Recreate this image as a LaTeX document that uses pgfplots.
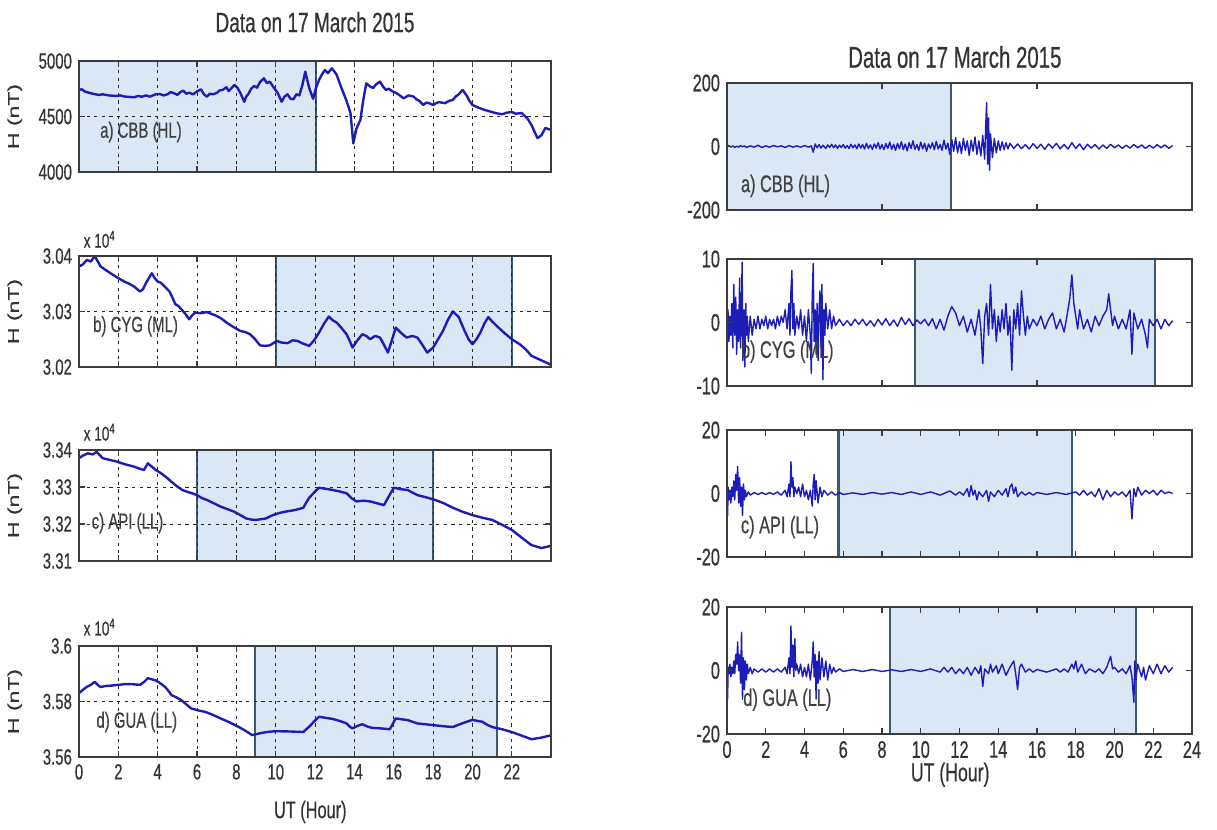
\documentclass[border=0pt]{standalone}
\usepackage{fontspec}
\setmainfont{Liberation Sans}[FakeStretch=0.68, FakeBold=0.5]
\newfontfamily\plainfont{Liberation Sans}[FakeBold=0.5]
\usepackage{graphicx}
\usepackage{pgfplots}
\pgfplotsset{compat=1.18}
\definecolor{shade}{RGB}{219,231,244}
\definecolor{shadeedge}{RGB}{62,88,112}
\definecolor{curve}{RGB}{28,28,185}
\definecolor{frame}{RGB}{60,60,60}
\tikzset{
 plab/.style={anchor=west, font=\fontsize{11}{13}\selectfont, text=black!75},
 rlab/.style={anchor=west, font=\fontsize{12}{14}\selectfont, text=black!75},
 xpow/.style={anchor=west, font=\fontsize{10}{12}\selectfont, text=black!80},
}
\pgfplotsset{
 base/.style={scale only axis, axis on top, scaled ticks=false, clip mode=individual,
   /pgf/number format/assume math mode=true,
   axis line style={frame, line width=1.1pt},
   tick style={frame, line width=0.6pt},
   major tick length=3pt, tick align=inside,
   tick label style={font=\fontsize{11}{13}\selectfont, text=black!80},
   xmin=0},
 leftax/.style={base, width=236pt, height=55.5pt, xmax=23.99, xtick={0,2,...,22},
   xmajorgrids, ymajorgrids,
   major grid style={black!85, line width=0.5pt, dash pattern=on 1.6pt off 2.2pt},
   ylabel={\scalebox{1}[0.68]{\plainfont\fontsize{11.5}{13}\selectfont H (nT)}},
   ylabel style={at={(rel axis cs:-0.136,0.5)}, anchor=center, text=black!80}},
 rightax/.style={base, width=232.5pt, height=63.5pt, xmax=24,
   tick label style={font=\fontsize{12}{14}\selectfont}},
 shadebox/.style={fill=shade, draw=shadeedge, line width=1.1pt},
 lcurve/.style={curve, line width=1.2pt, line join=round},
 rcurve/.style={curve, line width=0.7pt, line join=round},
}
\begin{document}
\begin{tikzpicture}
\useasboundingbox (0,0) rectangle (608.5pt,-415pt);

% ---------------- LEFT a
\begin{axis}[leftax, at={(39.5pt,-30.5pt)}, anchor=north west,
  ymin=4000, ymax=5000, ytick={4000,4500,5000}, yticklabels={4000,4500,5000}, xticklabels={}]
\addplot[shadebox] coordinates {(0,4000)(0,5000)(12.05,5000)(12.05,4000)(0,4000)};
\addplot[lcurve] coordinates {(0.0,4740)(0.14,4745)(0.3,4725)(0.5,4714)(0.7,4705)(1.0,4694)(1.2,4700)(1.5,4690)(1.9,4685)(2.1,4690)(2.3,4680)(2.6,4676)(2.8,4673)(3.0,4685)(3.2,4678)(3.4,4690)(3.6,4679)(3.9,4700)(4.1,4703)(4.3,4690)(4.5,4700)(4.65,4720)(4.8,4712)(5.0,4695)(5.15,4720)(5.3,4733)(5.45,4705)(5.6,4715)(5.8,4700)(6.0,4725)(6.2,4745)(6.35,4700)(6.5,4679)(6.65,4705)(6.8,4700)(7.0,4712)(7.15,4735)(7.3,4740)(7.5,4763)(7.6,4730)(7.7,4745)(7.9,4784)(8.05,4760)(8.2,4712)(8.4,4633)(8.5,4680)(8.6,4700)(8.75,4750)(8.9,4775)(9.05,4760)(9.2,4810)(9.4,4844)(9.55,4800)(9.7,4814)(9.9,4760)(10.1,4712)(10.3,4633)(10.45,4680)(10.6,4700)(10.75,4660)(10.9,4655)(11.05,4700)(11.2,4690)(11.35,4780)(11.5,4904)(11.6,4830)(11.7,4757)(11.9,4660)(12.05,4760)(12.2,4829)(12.35,4880)(12.5,4919)(12.65,4890)(12.85,4934)(13.0,4900)(13.1,4874)(13.25,4800)(13.4,4729)(13.6,4640)(13.8,4530)(13.94,4258)(14.1,4390)(14.3,4468)(14.45,4650)(14.6,4799)(14.8,4770)(14.95,4757)(15.1,4790)(15.3,4814)(15.45,4770)(15.6,4739)(15.75,4750)(15.9,4730)(16.15,4709)(16.3,4690)(16.5,4664)(16.75,4690)(17.0,4680)(17.15,4655)(17.3,4640)(17.5,4604)(17.65,4625)(17.8,4620)(18.0,4604)(18.15,4620)(18.3,4630)(18.6,4620)(18.8,4640)(19.0,4650)(19.15,4680)(19.3,4700)(19.5,4739)(19.7,4690)(19.85,4640)(20.0,4604)(20.3,4580)(20.6,4560)(20.8,4550)(21.0,4540)(21.2,4530)(21.5,4520)(21.75,4535)(22.0,4540)(22.2,4525)(22.5,4531)(22.8,4480)(23.0,4423)(23.3,4306)(23.5,4330)(23.7,4396)(23.99,4380)};
\node[plab] at (rel axis cs:0.03,0.36) {a) CBB (HL)};
\node[font=\fontsize{14}{16}\selectfont, text=black!80] at (rel axis cs:0.5,1.35) {Data on 17 March 2015};
\end{axis}

% ---------------- LEFT b
\begin{axis}[leftax, at={(39.5pt,-128pt)}, anchor=north west,
  ymin=3.02, ymax=3.04, ytick={3.02,3.03,3.04}, yticklabels={3.02,3.03,3.04}, xticklabels={}]
\addplot[shadebox] coordinates {(10,3.02)(10,3.04)(22,3.04)(22,3.02)(10,3.02)};
\addplot[lcurve] coordinates {(0.0,3.0381)(0.2,3.0385)(0.4,3.0393)(0.6,3.0390)(0.8,3.0400)(1.1,3.0381)(1.35,3.0375)(1.6,3.0369)(2.0,3.0360)(2.3,3.0354)(2.55,3.0350)(2.8,3.0345)(3.1,3.0336)(3.25,3.0340)(3.4,3.0351)(3.7,3.0369)(3.85,3.0360)(4.0,3.0354)(4.15,3.0352)(4.3,3.0347)(4.6,3.0336)(4.75,3.0325)(4.9,3.0313)(5.05,3.0310)(5.2,3.0304)(5.4,3.0296)(5.6,3.0286)(5.75,3.0293)(5.9,3.0298)(6.2,3.0297)(6.5,3.0299)(7.0,3.0292)(7.25,3.0287)(7.5,3.0280)(7.85,3.0272)(8.2,3.0265)(8.45,3.0263)(8.7,3.0259)(8.95,3.0250)(9.2,3.0239)(9.45,3.0238)(9.7,3.0239)(10.05,3.0247)(10.3,3.0244)(10.6,3.0243)(10.85,3.0248)(11.1,3.0247)(11.4,3.0242)(11.7,3.0238)(11.95,3.0248)(12.2,3.0262)(12.45,3.0278)(12.7,3.0291)(12.9,3.0284)(13.1,3.0280)(13.35,3.0270)(13.6,3.0259)(13.75,3.0248)(13.9,3.0235)(14.15,3.0248)(14.4,3.0259)(14.6,3.0256)(14.8,3.0250)(15.05,3.0256)(15.3,3.0253)(15.5,3.0240)(15.7,3.0226)(15.9,3.0248)(16.1,3.0271)(16.35,3.0262)(16.65,3.0253)(16.95,3.0256)(17.2,3.0253)(17.45,3.0240)(17.7,3.0226)(18.0,3.0235)(18.25,3.0250)(18.5,3.0265)(18.75,3.0285)(19.0,3.0300)(19.3,3.0290)(19.6,3.0265)(19.8,3.0250)(20.0,3.0241)(20.2,3.0250)(20.4,3.0262)(20.6,3.0278)(20.8,3.0290)(21.0,3.0282)(21.2,3.0275)(21.6,3.0262)(22.0,3.0250)(22.4,3.0241)(22.7,3.0232)(23.0,3.0220)(23.5,3.0212)(23.99,3.0204)};
\node[plab] at (rel axis cs:0.015,0.366) {b) CYG (ML)};
\node[xpow] at (rel axis cs:-0.005,1.15) {x 10\textsuperscript{4}};
\end{axis}

% ---------------- LEFT c
\begin{axis}[leftax, at={(39.5pt,-225pt)}, anchor=north west,
  ymin=3.31, ymax=3.34, ytick={3.31,3.32,3.33,3.34}, yticklabels={3.31,3.32,3.33,3.34}, xticklabels={}]
\addplot[shadebox] coordinates {(6,3.31)(6,3.34)(18,3.34)(18,3.31)(6,3.31)};
\addplot[lcurve] coordinates {(0.0,3.3378)(0.2,3.3385)(0.45,3.3391)(0.7,3.3388)(0.9,3.3395)(1.2,3.3378)(1.5,3.3374)(1.9,3.3369)(2.3,3.3362)(2.8,3.3355)(3.05,3.3350)(3.3,3.3346)(3.5,3.3364)(3.7,3.3355)(3.9,3.3346)(4.15,3.3338)(4.4,3.3328)(4.7,3.3314)(5.0,3.3301)(5.25,3.3292)(5.5,3.3287)(5.75,3.3283)(6.0,3.3278)(6.25,3.3270)(6.5,3.3265)(6.85,3.3256)(7.2,3.3247)(7.55,3.3240)(7.9,3.3233)(8.2,3.3224)(8.5,3.3215)(8.75,3.3212)(9.0,3.3211)(9.25,3.3213)(9.5,3.3215)(9.85,3.3224)(10.2,3.3230)(10.55,3.3234)(10.9,3.3237)(11.15,3.3240)(11.4,3.3244)(11.55,3.3258)(11.7,3.3271)(11.95,3.3285)(12.2,3.3298)(12.55,3.3295)(12.9,3.3292)(13.25,3.3288)(13.6,3.3283)(13.85,3.3270)(14.1,3.3261)(14.45,3.3263)(14.8,3.3261)(15.15,3.3256)(15.5,3.3251)(15.75,3.3275)(16.0,3.3298)(16.35,3.3294)(16.7,3.3292)(16.95,3.3285)(17.2,3.3278)(17.65,3.3272)(18.1,3.3265)(18.5,3.3257)(19.0,3.3244)(19.5,3.3233)(20.0,3.3224)(20.5,3.3217)(21.0,3.3211)(21.5,3.3198)(22.0,3.3184)(22.5,3.3163)(23.0,3.3143)(23.5,3.3135)(23.99,3.3141)};
\node[plab] at (rel axis cs:0.012,0.342) {c) API (LL)};
\node[xpow] at (rel axis cs:-0.005,1.16) {x 10\textsuperscript{4}};
\end{axis}

% ---------------- LEFT d
\begin{axis}[leftax, at={(39.5pt,-323pt)}, anchor=north west,
  ymin=3.56, ymax=3.60, ytick={3.56,3.58,3.6}, yticklabels={3.56,3.58,3.6},
  xlabel={UT (Hour)}, xlabel style={at={(rel axis cs:0.49,-0.495)}, anchor=center, font=\fontsize{12}{14}\selectfont, text=black!80}]
\addplot[shadebox] coordinates {(8.95,3.56)(8.95,3.60)(21.25,3.60)(21.25,3.56)(8.95,3.56)};
\addplot[lcurve] coordinates {(0.0,3.5830)(0.2,3.5842)(0.4,3.5853)(0.6,3.5860)(0.8,3.5871)(0.95,3.5860)(1.1,3.5852)(1.35,3.5856)(1.6,3.5857)(2.0,3.5860)(2.4,3.5863)(2.75,3.5862)(3.1,3.5860)(3.3,3.5870)(3.5,3.5884)(3.7,3.5880)(3.9,3.5876)(4.15,3.5865)(4.4,3.5851)(4.55,3.5838)(4.7,3.5823)(4.95,3.5815)(5.2,3.5805)(5.45,3.5790)(5.7,3.5775)(6.05,3.5768)(6.4,3.5763)(6.8,3.5752)(7.2,3.5739)(7.65,3.5725)(8.1,3.5709)(8.45,3.5695)(8.8,3.5679)(9.05,3.5683)(9.3,3.5687)(9.65,3.5691)(10.0,3.5693)(10.7,3.5692)(11.4,3.5690)(11.55,3.5700)(11.7,3.5709)(11.95,3.5728)(12.2,3.5745)(12.55,3.5741)(12.9,3.5737)(13.25,3.5730)(13.6,3.5721)(13.75,3.5710)(13.9,3.5703)(14.15,3.5712)(14.4,3.5718)(14.65,3.5710)(14.9,3.5705)(15.35,3.5703)(15.8,3.5700)(15.95,3.5720)(16.1,3.5739)(16.4,3.5736)(16.7,3.5733)(16.95,3.5727)(17.2,3.5721)(17.6,3.5718)(18.0,3.5715)(18.5,3.5711)(19.0,3.5708)(19.5,3.5722)(20.0,3.5734)(20.25,3.5730)(20.5,3.5727)(20.75,3.5716)(21.0,3.5708)(21.5,3.5700)(22.0,3.5690)(22.5,3.5677)(23.0,3.5664)(23.5,3.5670)(23.99,3.5678)};
\node[plab] at (rel axis cs:0.022,0.315) {d) GUA (LL)};
\node[xpow] at (rel axis cs:-0.005,1.17) {x 10\textsuperscript{4}};
\end{axis}

% ---------------- RIGHT a
\begin{axis}[rightax, at={(363.5pt,-41.5pt)}, anchor=north west,
  ymin=-200, ymax=200, ytick={-200,0,200}, yticklabels={-200,0,200}, xtick={0,8,16,24}, xticklabels={}]
\addplot[shadebox] coordinates {(0,-200)(0,200)(11.55,200)(11.55,-200)(0,-200)};
\addplot[rcurve] coordinates {(0,0)(0.1,3)(0.2,-2)(0.3,2)(0.4,-3)(0.5,1)(0.6,-2)(0.7,3)(0.8,-1)(0.9,2)(1.0,-3)(1.2,2)(1.4,-2)(1.6,4)(1.8,-3)(2.0,2)(2.2,-2)(2.4,3)(2.6,-1)(2.8,2)(3.0,-3)(3.2,3)(3.4,-2)(3.6,2)(3.8,-2)(4.0,3)(4.2,-2)(4.35,2)(4.45,-18)(4.55,8)(4.65,-4)(4.75,6)(4.85,-5)(4.95,4)(5.1,-6)(5.2,5)(5.3,-3)(5.4,7)(5.5,-4)(5.6,5)(5.7,-6)(5.8,4)(5.9,-3)(6.0,6)(6.1,-5)(6.2,3)(6.3,-6)(6.4,7)(6.5,-4)(6.6,5)(6.7,-7)(6.8,8)(6.9,-5)(7.0,6)(7.1,-8)(7.2,10)(7.3,-6)(7.4,5)(7.5,-9)(7.6,8)(7.7,-5)(7.8,12)(7.9,-8)(8.0,6)(8.1,-10)(8.2,9)(8.3,-6)(8.4,14)(8.5,-9)(8.6,7)(8.7,-12)(8.8,10)(8.9,-7)(9.0,15)(9.1,-10)(9.2,8)(9.3,-14)(9.4,12)(9.5,-6)(9.6,18)(9.7,-9)(9.8,6)(9.9,-12)(10.0,14)(10.1,-8)(10.2,10)(10.3,-15)(10.4,8)(10.5,-6)(10.6,12)(10.7,-10)(10.8,16)(10.9,-8)(11.0,6)(11.1,-12)(11.2,20)(11.3,-8)(11.4,10)(11.5,-25)(11.6,22)(11.7,-15)(11.8,28)(11.9,-20)(12.0,15)(12.1,-22)(12.2,25)(12.3,-12)(12.4,18)(12.5,-28)(12.6,20)(12.7,-15)(12.8,30)(12.9,-25)(13.0,18)(13.1,-30)(13.2,35)(13.3,-40)(13.35,60)(13.4,138)(13.45,-55)(13.5,90)(13.55,-75)(13.6,40)(13.7,-35)(13.8,25)(13.9,-20)(14.0,18)(14.1,-12)(14.2,15)(14.3,-10)(14.4,12)(14.5,-8)(14.6,10)(14.8,-6)(15.0,8)(15.2,-7)(15.4,6)(15.6,-8)(15.8,9)(16.0,-6)(16.2,7)(16.4,-9)(16.6,8)(16.8,-5)(17.0,10)(17.2,-7)(17.4,6)(17.6,-8)(17.8,12)(18.0,-6)(18.2,8)(18.4,-10)(18.6,7)(18.8,-5)(19.0,6)(19.2,-8)(19.4,5)(19.6,-6)(19.8,7)(20.0,-4)(20.2,5)(20.4,-6)(20.6,4)(20.8,-5)(21.0,6)(21.2,-4)(21.4,5)(21.6,-6)(21.8,4)(22.0,-5)(22.2,6)(22.4,-4)(22.6,5)(22.8,-6)(23.0,3)};
\node[rlab] at (rel axis cs:0.015,0.19) {a) CBB (HL)};
\node[font=\fontsize{15}{17}\selectfont, text=black!80] at (rel axis cs:0.49,1.205) {Data on 17 March 2015};
\end{axis}

% ---------------- RIGHT b
\begin{axis}[rightax, at={(363.5pt,-129.5pt)}, anchor=north west,
  ymin=-10, ymax=10, ytick={-10,0,10}, yticklabels={-10,0,10}, xtick={0,8,16,24}, xticklabels={}]
\addplot[shadebox] coordinates {(9.7,-10)(9.7,10)(22.1,10)(22.1,-10)(9.7,-10)};
\addplot[rcurve] coordinates {(0,-1)(0.05,2)(0.1,-3)(0.15,1)(0.2,-2)(0.25,3)(0.3,-4)(0.35,6)(0.4,-2)(0.45,4)(0.5,-5)(0.55,2)(0.6,-3)(0.65,7)(0.7,-4)(0.75,3)(0.78,9.5)(0.82,-6)(0.88,2)(0.92,-7)(0.97,3)(1.0,-2)(1.05,1)(1.1,-3)(1.2,1)(1.3,-2)(1.4,0.5)(1.5,-1)(1.6,1)(1.7,-1)(1.8,0.5)(1.9,-0.5)(2.0,1)(2.1,-1)(2.2,0.5)(2.3,-0.5)(2.4,0.5)(2.5,-1)(2.6,1)(2.7,-0.5)(2.8,1)(2.9,0)(3.0,2)(3.1,-1)(3.2,3)(3.25,-2)(3.3,5)(3.35,8.2)(3.4,-1)(3.45,3)(3.5,-2)(3.6,1)(3.7,-1)(3.8,2)(3.9,-2)(4.0,1)(4.1,-3)(4.2,2)(4.3,-2)(4.35,-8)(4.4,4)(4.45,9.3)(4.5,-3)(4.55,2)(4.6,-5)(4.65,3)(4.7,-6)(4.75,2)(4.8,5)(4.85,-4)(4.9,6)(4.95,-9)(5.0,2)(5.05,-2)(5.1,3)(5.2,-1)(5.3,2)(5.4,-1)(5.5,1)(5.6,-0.5)(5.8,0.5)(6.0,-0.5)(6.2,0.3)(6.4,-0.5)(6.6,0.5)(6.8,-0.3)(7.0,0.5)(7.2,-0.5)(7.4,0.3)(7.6,-0.6)(7.8,0.5)(8.0,-0.4)(8.2,0.6)(8.4,-0.5)(8.6,0.4)(8.8,-0.6)(9.0,0.8)(9.2,-0.3)(9.4,0.6)(9.6,-0.5)(9.8,0.4)(10.0,-0.2)(10.2,0.5)(10.4,-0.5)(10.6,0.6)(10.8,-1)(11.0,0.5)(11.2,-1.2)(11.4,1)(11.6,2.5)(11.8,1.5)(12.0,-0.5)(12.2,1)(12.4,-1.5)(12.6,0.5)(12.8,-2)(13.0,2)(13.1,-1)(13.2,-6.5)(13.3,1)(13.4,3)(13.5,-2)(13.6,6)(13.7,-1)(13.8,2)(13.9,-3)(14.0,1)(14.1,-1.5)(14.2,2)(14.3,-1)(14.4,3)(14.5,-2)(14.6,1)(14.7,-7.5)(14.8,2)(14.9,-1)(15.0,3)(15.1,-2)(15.2,5)(15.3,1)(15.4,-2)(15.5,1)(15.6,-1)(15.8,0.5)(16.0,-0.5)(16.2,1)(16.4,-1)(16.6,0.5)(16.8,1.5)(17.0,-1)(17.2,0.5)(17.4,-1.5)(17.6,2)(17.7,4)(17.8,7.5)(17.9,3)(18.0,1)(18.1,-1)(18.2,2)(18.4,-1)(18.6,0.5)(18.8,-1.5)(19.0,1)(19.2,-0.5)(19.4,1)(19.6,2)(19.7,4.5)(19.8,2)(19.9,-0.5)(20.0,1)(20.2,-1)(20.4,0.5)(20.6,-1)(20.8,2)(20.9,-5)(21.0,1.5)(21.2,-1)(21.4,0.5)(21.6,-2)(21.7,-4)(21.8,0.5)(22.0,-0.5)(22.2,0.5)(22.4,-1)(22.6,0.5)(22.8,-0.5)(23.0,0.3)};
\node[rlab] at (rel axis cs:0.015,0.27) {b) CYG (ML)};
\end{axis}

% ---------------- RIGHT c
\begin{axis}[rightax, at={(363.5pt,-215pt)}, anchor=north west,
  ymin=-20, ymax=20, ytick={-20,0,20}, yticklabels={-20,0,20}, xtick={0,2,...,24}, xticklabels={}]
\addplot[shadebox] coordinates {(5.75,-20)(5.75,20)(17.8,20)(17.8,-20)(5.75,-20)};
\addplot[rcurve] coordinates {(0,-1)(0.03,-7)(0.06,2)(0.1,-2)(0.15,1)(0.2,-3)(0.25,2)(0.3,-1)(0.35,4)(0.4,-2)(0.45,6)(0.5,1)(0.55,8.5)(0.6,-3)(0.65,5)(0.7,-4)(0.75,2)(0.8,-7)(0.85,3)(0.9,-2)(0.95,1)(1.0,-1)(1.1,0.5)(1.2,-0.5)(1.4,0.3)(1.6,-0.3)(1.8,0.3)(2.0,-0.3)(2.2,0.3)(2.4,-0.3)(2.6,0.5)(2.8,-0.5)(3.0,1)(3.1,-1)(3.2,3)(3.25,-1)(3.3,10)(3.35,2)(3.4,5)(3.45,-1)(3.5,2)(3.6,0)(3.7,2)(3.8,-1)(3.9,3)(4.0,-1)(4.1,1)(4.2,-2)(4.3,1)(4.4,-4)(4.45,3)(4.5,6)(4.55,-2)(4.6,4)(4.7,-3)(4.8,2)(4.9,-1)(5.0,1)(5.2,-0.5)(5.4,0.5)(5.6,-0.5)(5.8,0.3)(6.0,-0.3)(6.5,0.2)(7.0,-0.3)(7.5,0.3)(8.0,-0.2)(8.5,0.3)(9.0,-0.3)(9.5,0.5)(10.0,-0.3)(10.5,0.5)(11.0,-0.5)(11.5,0.8)(11.8,-0.5)(12.0,0.5)(12.2,-0.5)(12.4,1.5)(12.5,-1)(12.6,2.5)(12.7,-0.5)(12.8,1)(12.9,-2)(13.0,0.5)(13.2,-1)(13.4,1)(13.5,-2.5)(13.6,0.5)(13.8,-1)(14.0,1)(14.2,-0.5)(14.4,1.5)(14.5,-1)(14.6,2)(14.7,3)(14.8,0)(14.9,2)(15.0,-1)(15.2,0.5)(15.4,-0.5)(15.6,0.3)(15.8,-0.5)(16.0,0.3)(16.5,-0.3)(17.0,0.3)(17.5,-0.3)(18.0,0.5)(18.2,-0.5)(18.4,1)(18.6,-0.5)(18.8,0.5)(19.0,-1)(19.2,1.5)(19.4,-2)(19.6,1)(19.8,-1)(20.0,0.5)(20.2,-0.5)(20.4,0.5)(20.6,-1)(20.8,1)(20.9,-8)(21.0,1.5)(21.1,-1)(21.2,2)(21.4,-0.5)(21.6,1)(21.8,0)(22.0,1)(22.2,-0.5)(22.4,1)(22.6,0)(22.8,0.5)(23.0,0)};
\node[rlab] at (rel axis cs:0.015,0.236) {c) API (LL)};
\end{axis}

% ---------------- RIGHT d
\begin{axis}[rightax, at={(363.5pt,-303.5pt)}, anchor=north west,
  ymin=-20, ymax=20, ytick={-20,0,20}, yticklabels={-20,0,20}, xtick={0,2,...,24},
  xticklabels={0,2,4,6,8,10,12,14,16,18,20,22,24},
  xlabel={UT (Hour)}, xlabel style={at={(rel axis cs:0.48,-0.32)}, anchor=center, font=\fontsize{13}{15}\selectfont, text=black!80}]
\addplot[shadebox] coordinates {(8.4,-20)(8.4,20)(21.1,20)(21.1,-20)(8.4,-20)};
\addplot[rcurve] coordinates {(0,-2)(0.03,-9)(0.06,1)(0.1,-1)(0.15,2)(0.2,-2)(0.25,1)(0.3,-1)(0.35,3)(0.4,-1)(0.45,5)(0.5,2)(0.55,9)(0.6,0)(0.65,5)(0.7,-4)(0.75,12)(0.8,-9)(0.85,4)(0.9,-6)(0.95,3)(1.0,-3)(1.05,2)(1.1,-1)(1.2,1)(1.3,-1)(1.4,0.5)(1.6,-0.5)(1.8,0.5)(2.0,-0.5)(2.2,0.5)(2.4,-0.5)(2.6,0.5)(2.8,-0.5)(3.0,1)(3.1,-1)(3.2,4)(3.25,-1)(3.3,14)(3.35,1)(3.4,8)(3.45,-2)(3.5,10)(3.55,0)(3.6,2)(3.7,-1)(3.8,2)(3.9,-2)(4.0,1)(4.1,-2)(4.2,2)(4.3,-3)(4.4,3)(4.45,9)(4.5,-2)(4.55,5)(4.6,-9)(4.65,3)(4.7,-4)(4.75,6)(4.8,-3)(4.9,4)(5.0,-2)(5.1,3)(5.2,-3)(5.3,2)(5.4,-1)(5.5,1)(5.6,-0.5)(5.8,0.5)(6.0,-0.3)(6.5,0.3)(7.0,-0.3)(7.5,0.3)(8.0,-0.3)(8.5,0.2)(9.0,-0.3)(9.5,0.3)(10.0,-0.3)(10.5,0.5)(11.0,-0.5)(11.2,1)(11.4,-0.5)(11.6,1)(11.8,-1)(12.0,0.5)(12.2,-1)(12.4,1)(12.6,-1.5)(12.8,1)(13.0,-1)(13.1,1.5)(13.2,-5)(13.3,0.5)(13.5,-1)(13.6,2)(13.7,-0.5)(13.9,1.5)(14.0,-1)(14.2,2)(14.4,-1.5)(14.6,1)(14.8,3)(14.9,-1)(15.0,-6)(15.1,1)(15.2,2)(15.4,-0.5)(15.6,0.5)(15.8,-0.5)(16.0,0.3)(16.5,-0.5)(17.0,0.5)(17.2,-0.5)(17.4,0.5)(17.6,-0.5)(17.8,2)(17.9,0.5)(18.0,3)(18.1,-0.5)(18.3,2)(18.5,-1)(18.7,0.5)(19.0,-0.5)(19.2,0.5)(19.4,-1)(19.6,1)(19.8,4.5)(19.9,0.5)(20.0,1)(20.2,-0.5)(20.4,0.5)(20.6,-1)(20.8,1.5)(20.9,-2)(21.0,-10)(21.05,3)(21.1,-3)(21.2,2)(21.4,-2)(21.5,1)(21.6,-3)(21.8,1.5)(22.0,-1)(22.2,2)(22.4,-1)(22.6,1.5)(22.8,-0.5)(23.0,1)};
\node[rlab] at (rel axis cs:0.02,0.27) {d) GUA (LL)};
\end{axis}
\end{tikzpicture}
\end{document}
